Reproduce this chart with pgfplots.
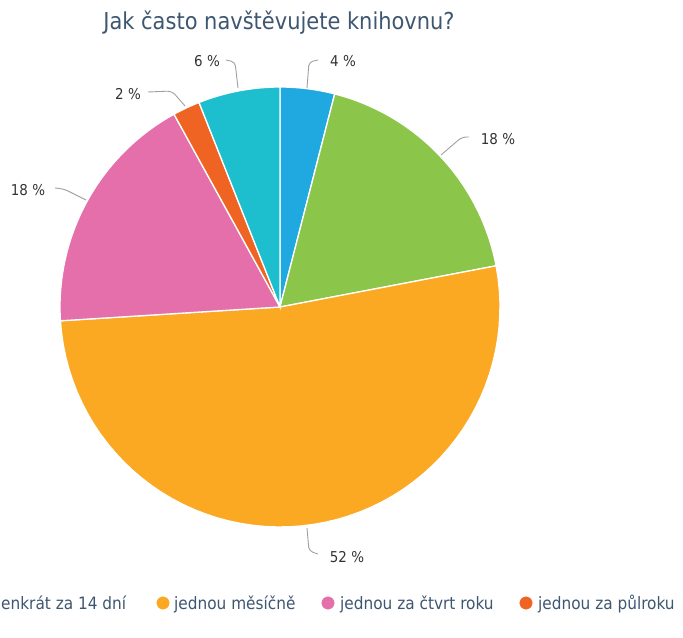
\documentclass[border=0pt]{standalone}
\usepackage{pgfplots}
\pgfplotsset{compat=1.18}
\usepackage{fontspec}
\setmainfont{DejaVu Sans Condensed}
\definecolor{cBlue}{HTML}{20A9E0}
\definecolor{cGreen}{HTML}{8BC64A}
\definecolor{cOrange}{HTML}{FBA923}
\definecolor{cPink}{HTML}{E46FAB}
\definecolor{cRed}{HTML}{EF6423}
\definecolor{cTeal}{HTML}{1DBFCE}
\definecolor{titlecol}{HTML}{3E5670}
\definecolor{labelcol}{HTML}{333333}
\definecolor{leadcol}{HTML}{A0A0A0}
% pie: centre (280,331), radius 220; slices clockwise from 12 o'clock
% #1 = cumulative share before the slice, #2 = share of the slice (percent)
\newcommand{\pieslice}[3]{%
  \addplot[fill=#3, draw=white, line width=1.3bp, domain={90-3.6*(#1+#2)}:{90-3.6*(#1)}, samples=60, variable=\t]
    ({280+220*cos(\t)},{331+220*sin(\t)}) -- (axis cs:280,331) -- cycle;
}
\begin{document}
\begin{tikzpicture}
\useasboundingbox (0,0) rectangle (683bp,638bp);
\begin{axis}[
  at={(0,0)}, anchor=south west,
  x=1bp, y=1bp, xmin=0, xmax=683, ymin=0, ymax=638,
  hide axis, clip=false,
]
% shares in percent: 4, 18, 52, 18, 2, 6
\pieslice{0}{4}{cBlue}
\pieslice{4}{18}{cGreen}
\pieslice{22}{52}{cOrange}
\pieslice{74}{18}{cPink}
\pieslice{92}{2}{cRed}
\pieslice{94}{6}{cTeal}
% leader lines
\draw[leadcol, line width=0.9bp, rounded corners=4bp] (axis cs:307,550) -- (axis cs:309,576) -- (axis cs:318,578);
\draw[leadcol, line width=0.9bp, rounded corners=4bp] (axis cs:441,483) -- (axis cs:462,501) -- (axis cs:469,501);
\draw[leadcol, line width=0.9bp, rounded corners=4bp] (axis cs:307,110) -- (axis cs:309,87) -- (axis cs:318,84);
\draw[leadcol, line width=0.9bp, rounded corners=4bp] (axis cs:86,438) -- (axis cs:64,449) -- (axis cs:55,450);
\draw[leadcol, line width=0.9bp, rounded corners=5bp] (axis cs:185,532) -- (axis cs:172,547) -- (axis cs:148,546);
\draw[leadcol, line width=0.9bp, rounded corners=4bp] (axis cs:238,550) -- (axis cs:235,576) -- (axis cs:226,578);
% data labels
\begin{scope}[every node/.style={font=\fontsize{15}{18}\selectfont, text=labelcol}]
\node at (axis cs:343,577) {4 \%};
\node at (axis cs:498,499) {18 \%};
\node at (axis cs:347,81) {52 \%};
\node at (axis cs:28,448) {18 \%};
\node at (axis cs:128,544) {2 \%};
\node at (axis cs:207,577) {6 \%};
\end{scope}
% title
\node[text=titlecol, font=\fontsize{23.4}{27}\selectfont] at (axis cs:279,615) {Jak často navštěvujete knihovnu?};
% legend (visible part; the first key lies beyond the left edge)
\addplot[only marks, mark=*, mark size=6.2bp, color=cOrange, forget plot] coordinates {(163,35)};
\addplot[only marks, mark=*, mark size=6.2bp, color=cPink, forget plot] coordinates {(328,35)};
\addplot[only marks, mark=*, mark size=6.2bp, color=cRed, forget plot] coordinates {(526,35)};
\begin{scope}[every node/.style={font=\fontsize{17.1}{20}\selectfont, text=titlecol, anchor=base west, inner sep=0pt}]
\node at (axis cs:1,28) {enkrát za 14 dní};
\node at (axis cs:174,28) {jednou měsíčně};
\node at (axis cs:340,28) {jednou za čtvrt roku};
\node at (axis cs:538,28) {jednou za půlroku};
\end{scope}
\end{axis}
\end{tikzpicture}
\end{document}
